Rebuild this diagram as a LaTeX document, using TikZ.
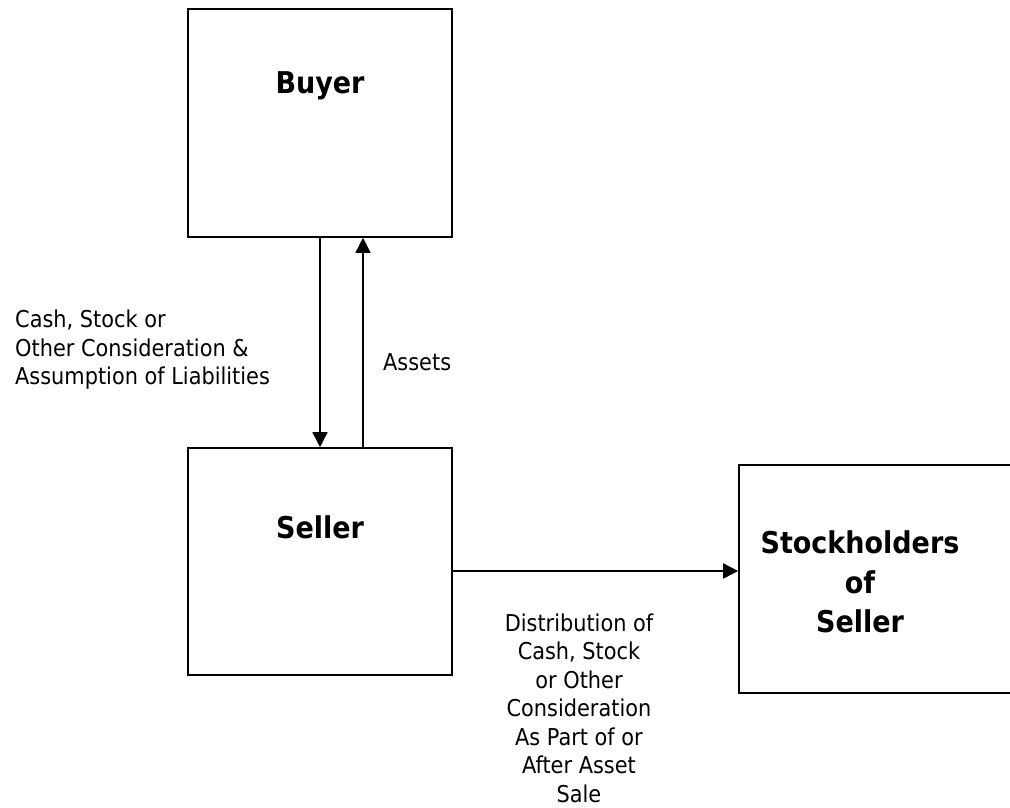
\documentclass[tikz,border=0pt]{standalone}
\usepackage{fontspec}
\setmainfont{DejaVu Sans Condensed}
\usetikzlibrary{arrows.meta}
\begin{document}
\begin{tikzpicture}[x=1pt,y=-1pt,
  box/.style={draw=black, line width=1.6pt, fill=white, minimum width=264pt, minimum height=228pt, inner sep=0pt},
  title/.style={font=\fontsize{30}{39.5}\selectfont\bfseries, align=center, inner sep=0pt},
  lbl/.style={font=\fontsize{23.2}{28.5}\selectfont, inner sep=0pt},
  arr/.style={draw=black, line width=1.6pt, -{Triangle[length=15pt 0 0,width=15pt 0 0]}}]
\useasboundingbox (0,0) rectangle (1010,808);
\node[box] (buyer) at (320,123) {};
\node[box, minimum height=227pt] (seller) at (320,561.5) {};
\node[box, minimum width=273pt] (stock) at (875.5,579) {};
\node[title] (buyertext) at (320,86) {Buyer};
\node[title] (sellertext) at (320,527) {Seller};
\node[title] (stocktext) at (860,582) {Stockholders\\of\\Seller};
\draw[arr] (buyer.south) -- (seller.north);
\draw[arr] ([xshift=43pt]seller.north) -- ([xshift=43pt]buyer.south);
\draw[arr] ([yshift=-9.5pt]seller.east) -- ([yshift=-9.5pt]seller.east -| stock.west);
\node[lbl, align=left, anchor=west] (cashlbl) at (15,350) {Cash, Stock or\\Other Consideration \&\\Assumption of Liabilities};
\node[lbl, anchor=west] (assetslbl) at (383,362) {Assets};
\node[lbl, align=center] (distlbl) at (579,708) {Distribution of\\Cash, Stock\\or Other\\Consideration\\As Part of or\\After Asset\\Sale};
\end{tikzpicture}
\end{document}
